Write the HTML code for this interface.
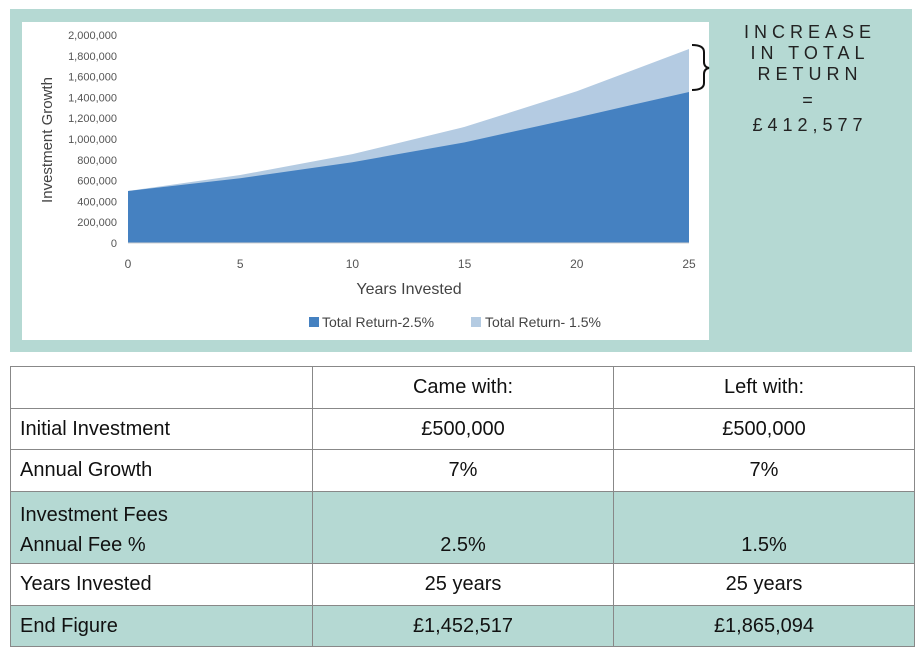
<!DOCTYPE html>
<html><head><meta charset="utf-8"><style>
body{margin:0;width:921px;height:655px;background:#fff;font-family:"Liberation Sans",sans-serif;position:relative;overflow:hidden}
#teal{position:absolute;left:10px;top:9px;width:902px;height:343px;background:#b5d9d3}
#card{position:absolute;left:22px;top:22px;width:687px;height:318px;background:#fff}
.big{position:absolute;left:715px;width:190px;text-align:center;font-size:18px;letter-spacing:5px;color:#222}
table{position:absolute;left:10px;top:366px;width:905px;border-collapse:collapse;font-size:20px;color:#111}
td{border:1.5px solid #888;padding:0 9px;height:40px}
td.c{text-align:center}
tr.t td{background:#b5d9d3}
</style></head><body>
<div id="teal"></div>
<div id="card"></div>
<svg id="chart" width="921" height="655" style="position:absolute;left:0;top:0"></svg>
<div class="big" style="top:22px">INCREASE<br>IN TOTAL<br>RETURN<br><span style="line-height:30px">=</span><br>£412,577</div>
<table>
<tr style="height:42px"><td style="width:283px"></td><td class="c">Came with:</td><td class="c">Left with:</td></tr>
<tr style="height:41px"><td>Initial Investment</td><td class="c">£500,000</td><td class="c">£500,000</td></tr>
<tr style="height:42px"><td>Annual Growth</td><td class="c">7%</td><td class="c">7%</td></tr>
<tr class="t" style="height:72px"><td style="line-height:30px;padding-top:4px">Investment Fees<br>Annual Fee %</td><td class="c" style="vertical-align:bottom;padding-bottom:6px">2.5%</td><td class="c" style="vertical-align:bottom;padding-bottom:6px">1.5%</td></tr>
<tr style="height:42px"><td>Years Invested</td><td class="c">25 years</td><td class="c">25 years</td></tr>
<tr class="t" style="height:41px"><td>End Figure</td><td class="c">£1,452,517</td><td class="c">£1,865,094</td></tr>
</table>
<script>
const years=[0,5,10,15,20,25];
const fee25=[500000,623100,776500,967700,1205900,1452517];
const fee15=[500000,653500,854000,1116100,1458700,1865094];
const yTicks=[0,200000,400000,600000,800000,1000000,1200000,1400000,1600000,1800000,2000000];
const xTicks=[0,5,10,15,20,25];
const svg=document.getElementById('chart');
const NS='http://www.w3.org/2000/svg';
const X=v=>128+v*(689-128)/25;
const Y=v=>243-v*208/2000000;
function mk(t,a){const e=document.createElementNS(NS,t);for(const k in a)e.setAttribute(k,a[k]);svg.appendChild(e);return e;}
function area(vals,fill,name){let d='M'+X(years[0])+','+Y(0);years.forEach((y,i)=>d+=' L'+X(y)+','+Y(vals[i]));d+=' L'+X(years[years.length-1])+','+Y(0)+'Z';const p=mk('path',{d:d,fill:fill});

}
area(fee15,'#b4cbe2','area-total-return-1-5');
area(fee25,'#4581c1','area-total-return-2-5');
mk('line',{x1:128,x2:689,y1:243,y2:243,stroke:'#d0d0d0'});
yTicks.forEach(v=>{const t=mk('text',{x:117,y:Y(v)+4,'text-anchor':'end','font-size':11,fill:'#555'});t.textContent=v.toLocaleString('en-US');

});
xTicks.forEach(v=>{const t=mk('text',{x:X(v),y:268,'text-anchor':'middle','font-size':12,fill:'#555'});t.textContent=v;

});
const xt=mk('text',{x:409,y:294,'text-anchor':'middle','font-size':16,fill:'#444'});xt.textContent='Years Invested';


const yt=mk('text',{x:0,y:0,'text-anchor':'middle','font-size':15,fill:'#444',transform:'translate(52,140) rotate(-90)'});yt.textContent='Investment Growth';


const l1=mk('rect',{x:309,y:317,width:10,height:10,fill:'#4581c1'});


const lt1=mk('text',{x:322,y:327,'font-size':14,fill:'#444'});lt1.textContent='Total Return-2.5%';


const l2=mk('rect',{x:471,y:317,width:10,height:10,fill:'#b4cbe2'});


const lt2=mk('text',{x:485,y:327,'font-size':14,fill:'#444'});lt2.textContent='Total Return- 1.5%';


const br=mk('path',{d:'M692,45 Q704,45 704,52 L704,62 Q704,67 709,68 Q704,69 704,74 L704,83 Q704,90 692,90',fill:'none',stroke:'#111','stroke-width':2});


</script>
</body></html>
